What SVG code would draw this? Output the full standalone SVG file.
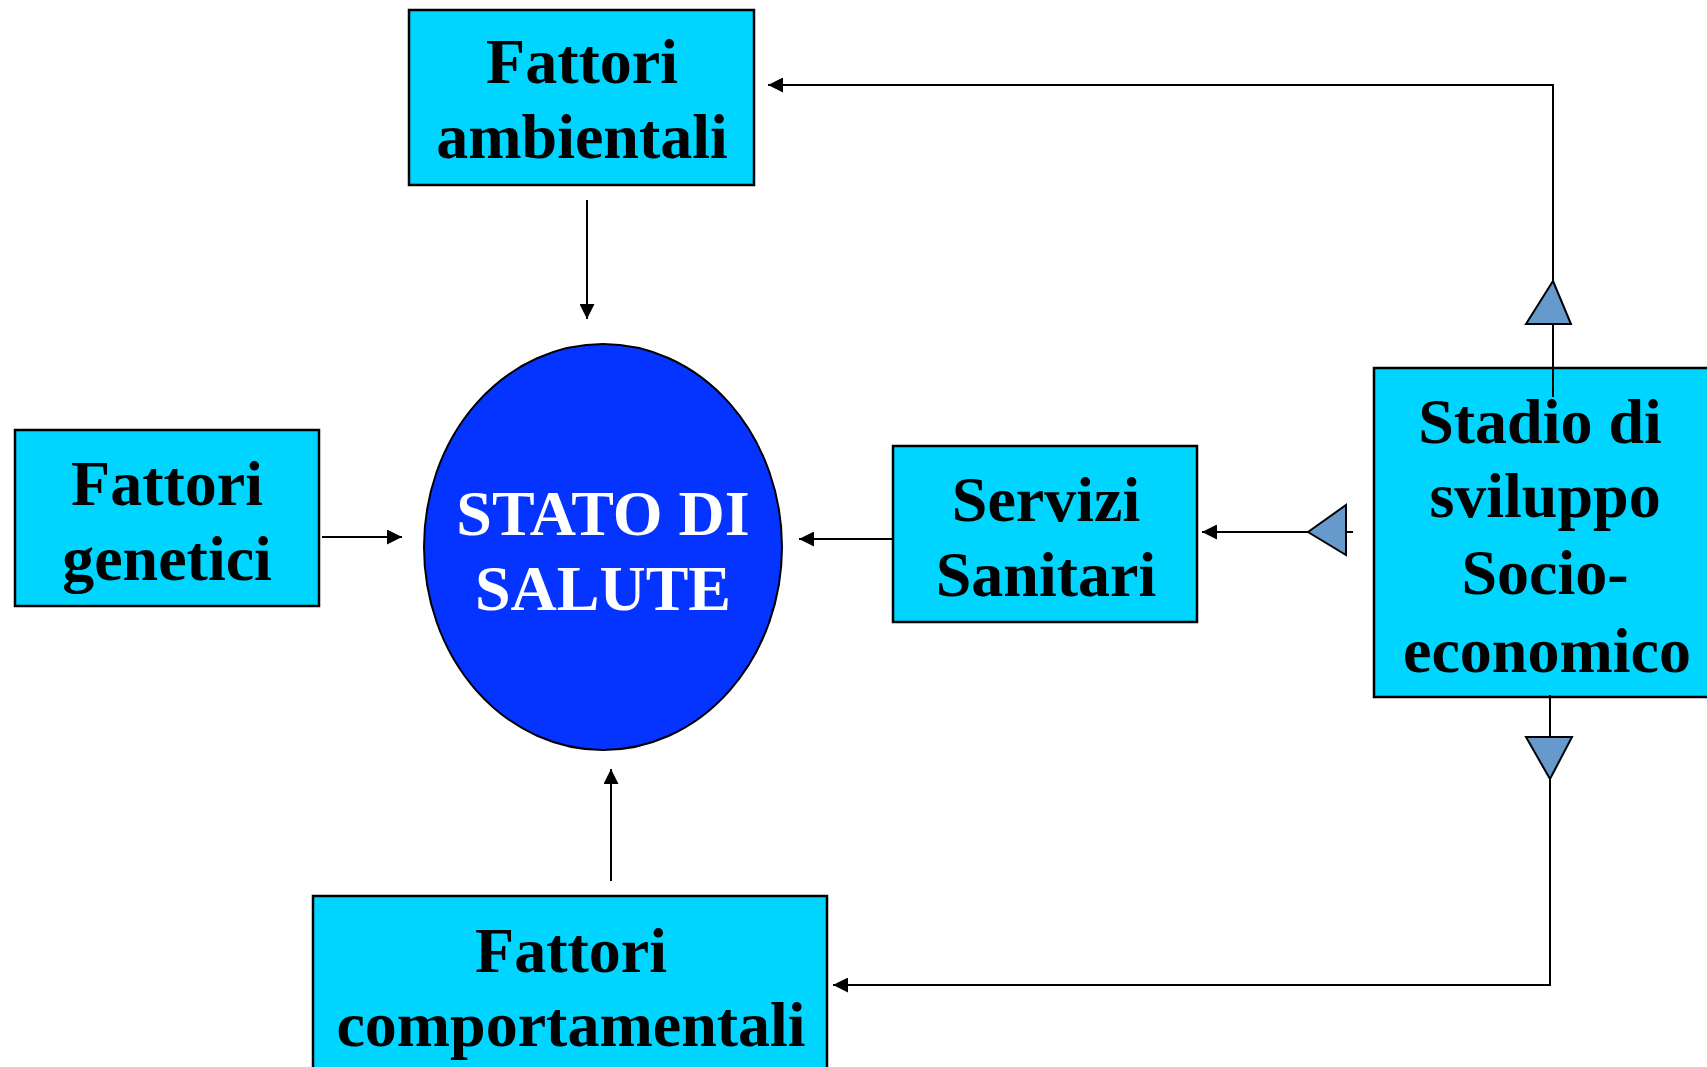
<svg xmlns="http://www.w3.org/2000/svg" width="1707" height="1067" viewBox="0 0 1707 1067">
<style>
.box{fill:#00D5FF;stroke:#000;stroke-width:2.5}
.lbl{font-family:"Liberation Serif","Times New Roman",serif;font-weight:bold;font-size:64px;text-anchor:middle;fill:#000}
.wl{fill:#fff}
.ln{fill:none;stroke:#000;stroke-width:2}
.tri{fill:#6699CC;stroke:#000;stroke-width:2}
</style>
<defs>
<marker id="ah" viewBox="0 0 15 15" refX="15" refY="7.5" markerWidth="15" markerHeight="15" markerUnits="userSpaceOnUse" orient="auto">
<path d="M0,0 L15,7.5 L0,15 Z" fill="#000"/>
</marker>
</defs>
<rect width="1707" height="1067" fill="#fff"/>
<g id="n-ambientali">
<rect class="box" x="409" y="10" width="345" height="175"/>
<text class="lbl" x="582" y="83">Fattori</text>
<text class="lbl" x="582" y="158">ambientali</text>
</g>
<g id="n-genetici">
<rect class="box" x="15" y="430" width="304" height="176"/>
<text class="lbl" x="167" y="505">Fattori</text>
<text class="lbl" x="167" y="580">genetici</text>
</g>
<g id="n-stato">
<ellipse cx="603" cy="547" rx="179" ry="203" fill="#0533FF" stroke="#000" stroke-width="2"/>
<text class="lbl wl" x="603" y="535">STATO DI</text>
<text class="lbl wl" x="603" y="610">SALUTE</text>
</g>
<g id="n-servizi">
<rect class="box" x="893" y="446" width="304" height="176"/>
<text class="lbl" x="1046" y="521">Servizi</text>
<text class="lbl" x="1046" y="596">Sanitari</text>
</g>
<g id="n-stadio">
<rect class="box" x="1374" y="368" width="340" height="329"/>
<text class="lbl" x="1540" y="443">Stadio di</text>
<text class="lbl" x="1545" y="517">sviluppo</text>
<text class="lbl" x="1545" y="594">Socio-</text>
<text class="lbl" x="1547" y="672">economico</text>
</g>
<g id="n-comportamentali">
<rect class="box" x="313" y="896" width="514" height="180"/>
<text class="lbl" x="571" y="972">Fattori</text>
<text class="lbl" x="571" y="1046">comportamentali</text>
</g>
<g id="connectors">
<line class="ln" x1="587" y1="200" x2="587" y2="319" marker-end="url(#ah)"/>
<line class="ln" x1="322" y1="537" x2="402" y2="537" marker-end="url(#ah)"/>
<line class="ln" x1="611" y1="881" x2="611" y2="769" marker-end="url(#ah)"/>
<line class="ln" x1="893" y1="539" x2="799" y2="539" marker-end="url(#ah)"/>
<line class="ln" x1="1353" y1="532" x2="1202" y2="532" marker-end="url(#ah)"/>
<polygon class="tri" points="1308,532 1346,505 1346,555"/>
<polyline class="ln" points="1553,397 1553,85 768,85" marker-end="url(#ah)"/>
<polygon class="tri" points="1553,281 1526,324 1571,324"/>
<polyline class="ln" points="1550,695 1550,985 833,985" marker-end="url(#ah)"/>
<polygon class="tri" points="1550,779 1526,737 1572,737"/>
</g>
</svg>
